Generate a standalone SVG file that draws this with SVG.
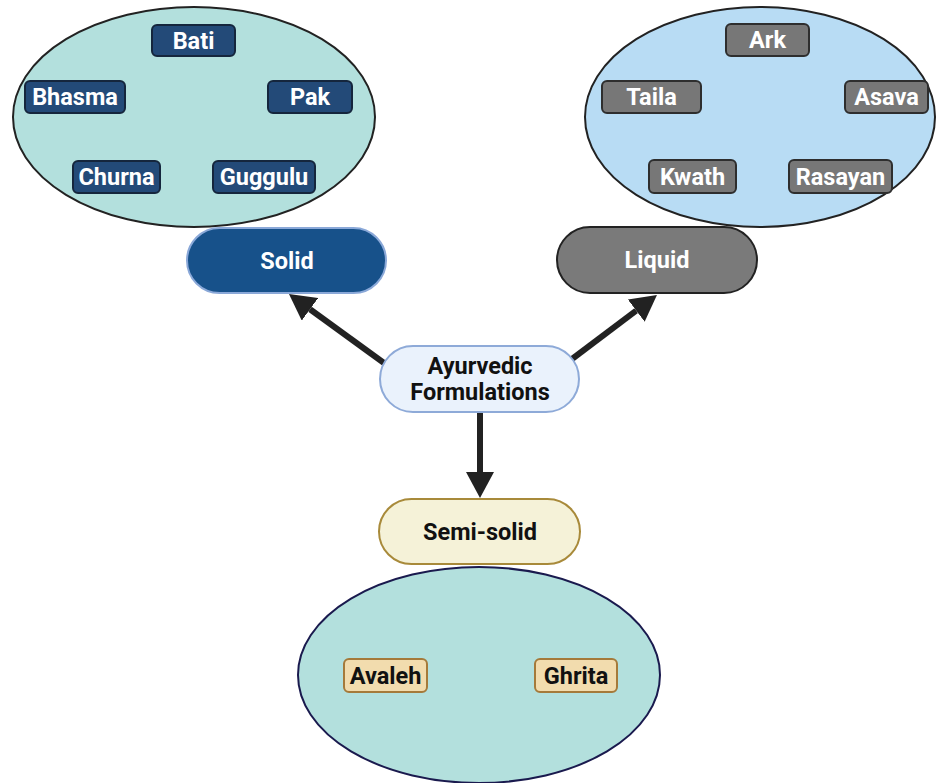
<svg xmlns="http://www.w3.org/2000/svg" width="938" height="783" viewBox="0 0 938 783">
<defs>
<style>
text{font-family:Roboto,"Liberation Sans",Arial,sans-serif;font-weight:bold;text-anchor:middle}
.lbl{font-size:23.5px}
.big{font-size:23.5px}
.navy rect{fill:#234a78;stroke:#15263d;stroke-width:2}
.navy text,.gray text{fill:#fff}
.gray rect{fill:#777;stroke:#2e2e2e;stroke-width:2}
.tan rect{fill:#f2dcae;stroke:#a57a3a;stroke-width:2}
.tan text{fill:#111}
.conn line{stroke:#222;stroke-width:6;fill:none}
</style>
<marker id="ah" viewBox="0 0 26 28" markerWidth="26" markerHeight="28" refX="0" refY="14" orient="auto" markerUnits="userSpaceOnUse">
<path d="M0,0 L26,14 L0,28 z" fill="#222"/>
</marker>
</defs>
<rect width="938" height="783" fill="#fff"/>
<g id="connectors" class="conn">
<line x1="384" y1="363" x2="310" y2="309.3" marker-end="url(#ah)"/>
<line x1="572" y1="359" x2="636.2" y2="310.6" marker-end="url(#ah)"/>
<line x1="480" y1="412" x2="480" y2="472" marker-end="url(#ah)"/>
</g>
<g id="solid-group">
<ellipse cx="194" cy="117" rx="181" ry="110" fill="#b3e0dd" stroke="#222" stroke-width="2"/>
</g>
<g id="bati" class="navy"><rect x="152" y="25" width="83" height="31" rx="5"/><text class="lbl" x="193.5" y="49">Bati</text></g>
<g id="bhasma" class="navy"><rect x="25" y="81" width="100" height="32" rx="5"/><text class="lbl" x="75" y="105">Bhasma</text></g>
<g id="pak" class="navy"><rect x="268" y="81" width="84" height="32" rx="5"/><text class="lbl" x="310" y="105">Pak</text></g>
<g id="churna" class="navy"><rect x="73" y="161" width="87" height="32" rx="5"/><text class="lbl" x="116.5" y="185">Churna</text></g>
<g id="guggulu" class="navy"><rect x="213" y="161" width="102" height="32" rx="5"/><text class="lbl" x="264" y="185">Guggulu</text></g>
<g id="liquid-group">
<ellipse cx="760" cy="117" rx="175" ry="110" fill="#b8dcf4" stroke="#222" stroke-width="2"/>
</g>
<g id="ark" class="gray"><rect x="726" y="24" width="83" height="32" rx="5"/><text class="lbl" x="767.5" y="48">Ark</text></g>
<g id="taila" class="gray"><rect x="602" y="81" width="99" height="32" rx="5"/><text class="lbl" x="651.5" y="105">Taila</text></g>
<g id="asava" class="gray"><rect x="845" y="81" width="83" height="32" rx="5"/><text class="lbl" x="886.5" y="105">Asava</text></g>
<g id="kwath" class="gray"><rect x="649" y="160" width="87" height="33" rx="5"/><text class="lbl" x="692.5" y="185">Kwath</text></g>
<g id="rasayan" class="gray"><rect x="789" y="160" width="103" height="33" rx="5"/><text class="lbl" x="840.5" y="185">Rasayan</text></g>
<g id="solid"><rect x="187" y="228" width="199" height="65" rx="32.5" fill="#17518a" stroke="#8aa8d8" stroke-width="2"/><text class="big" x="287" y="269" fill="#fff">Solid</text></g>
<g id="liquid"><rect x="557" y="227" width="200" height="66" rx="33" fill="#7a7a7a" stroke="#222" stroke-width="2"/><text class="big" x="657" y="268" fill="#fff">Liquid</text></g>
<g id="ayurvedic"><rect x="380" y="346" width="199" height="66" rx="33" fill="#eaf2fc" stroke="#8eaad8" stroke-width="2"/><text class="big" x="480" y="374" fill="#111">Ayurvedic</text><text class="big" x="480" y="400" fill="#111">Formulations</text></g>
<g id="semisolid"><rect x="379" y="499" width="201" height="65" rx="32.5" fill="#f5f2d8" stroke="#a88a3a" stroke-width="2"/><text class="big" x="480" y="540" fill="#111">Semi-solid</text></g>
<g id="semisolid-group">
<ellipse cx="479" cy="675" rx="181" ry="108" fill="#b3e0dd" stroke="#1a1a4e" stroke-width="2"/>
</g>
<g id="avaleh" class="tan"><rect x="344" y="659" width="83" height="33" rx="5"/><text class="lbl" x="385.5" y="684">Avaleh</text></g>
<g id="ghrita" class="tan"><rect x="535" y="659" width="82" height="33" rx="5"/><text class="lbl" x="576" y="684">Ghrita</text></g>
</svg>
